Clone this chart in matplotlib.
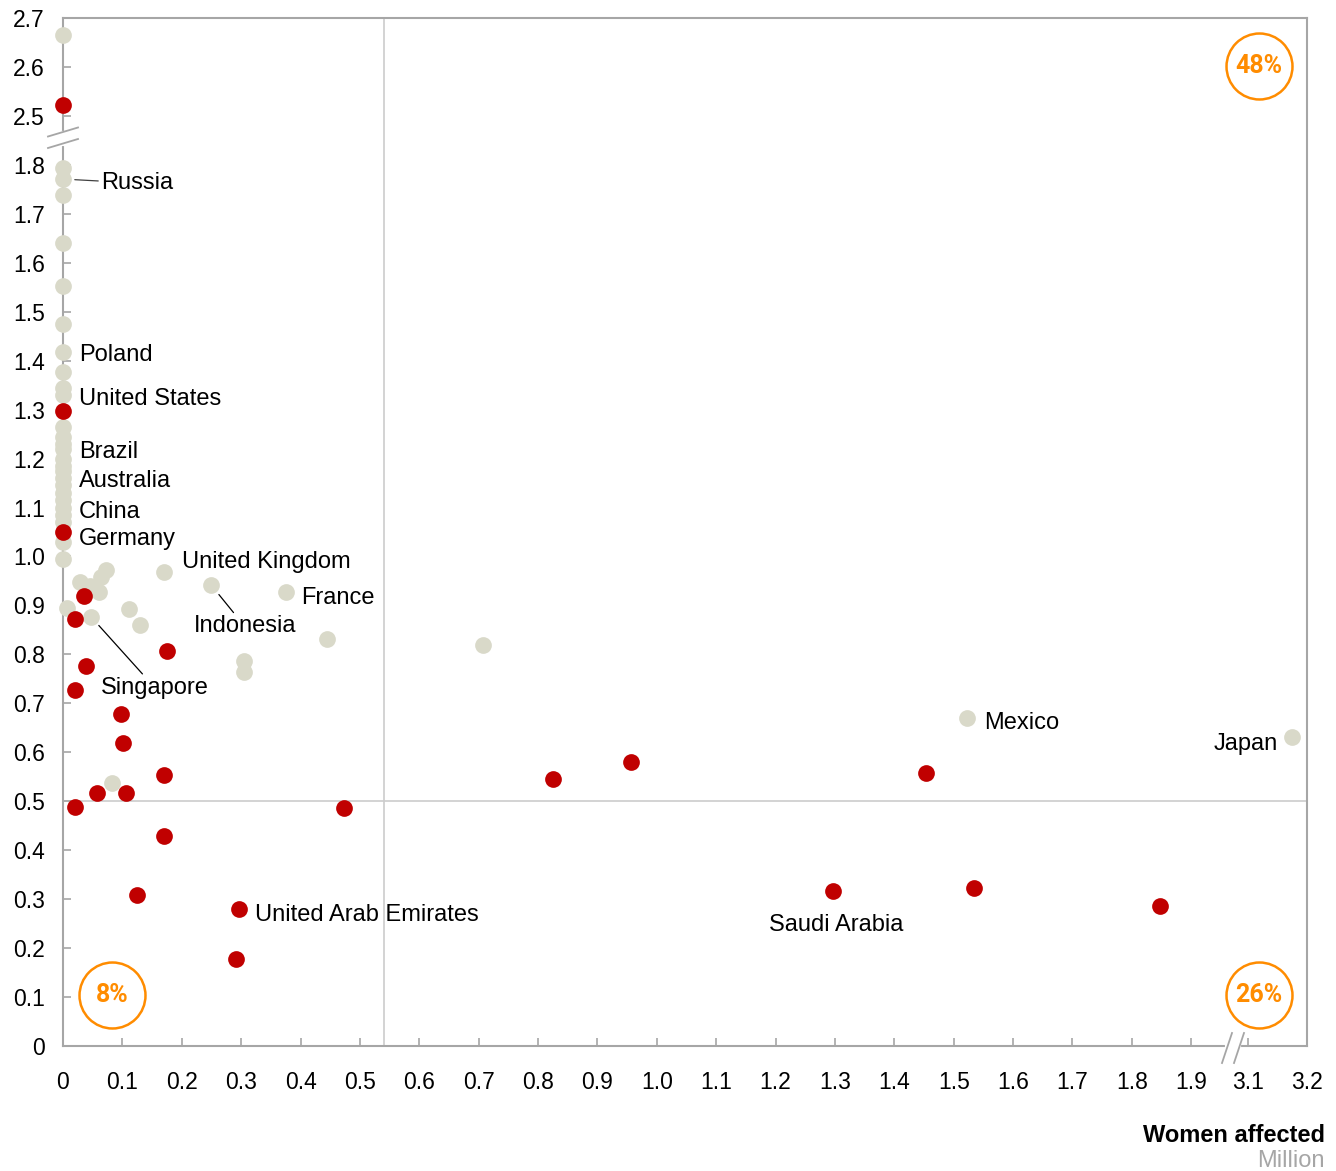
# Libraries importing
import numpy as np
import matplotlib
matplotlib.use('Agg')
import matplotlib.pyplot as plt
from matplotlib.transforms import ScaledTranslation

plt.rcParams['font.family'] = ['Liberation Sans', 'DejaVu Sans']

# countries that carry a label (x = women affected, million)
named_country = ['Russia', 'Poland', 'United States', 'Brazil', 'Australia', 'China',
                 'Germany', 'United Kingdom', 'Indonesia', 'France', 'Singapore',
                 'Mexico', 'Japan', 'United Arab Emirates', 'Saudi Arabia']
named_x = [0, 0, 0, 0, 0, 0, 0, 0.170, 0.250, 0.375, 0.047, 1.523, 3.174, 0.296, 1.297]
named_y = [1.771, 1.417, 1.345, 1.22, 1.16, 1.10, 1.049, 0.969, 0.941, 0.928, 0.877,
           0.671, 0.632, 0.280, 0.317]
named_red = [False, False, False, False, False, False, True, False, False, False, False,
             False, False, True, True]

# unlabelled countries
grey_x = [0, 0, 0, 0, 0, 0, 0, 0, 0, 0, 0, 0, 0, 0, 0, 0, 0, 0, 0, 0, 0,
          0.029, 0.045, 0.061, 0.064, 0.072, 0.006, 0.111, 0.129, 0.444, 0.304, 0.304,
          0.082, 0.708]
grey_y = [2.665, 1.793, 1.738, 1.640, 1.552, 1.474, 1.376, 1.33, 1.265, 1.245, 1.20,
          1.185, 1.145, 1.13, 1.115, 1.085, 1.07, 1.03, 0.994, 1.23, 1.175,
          0.947, 0.939, 0.927, 0.959, 0.973, 0.895, 0.892, 0.861, 0.832, 0.787, 0.763,
          0.538, 0.820]
red_x = [0, 0, 0.035, 0.020, 0.175, 0.039, 0.020, 0.098, 0.101, 0.170, 0.057, 0.106,
         0.020, 0.474, 0.170, 0.124, 0.292, 0.825, 0.956, 1.454, 1.534, 1.847]
red_y = [2.522, 1.297, 0.920, 0.873, 0.806, 0.777, 0.728, 0.679, 0.618, 0.554, 0.517,
         0.517, 0.489, 0.487, 0.429, 0.309, 0.178, 0.546, 0.581, 0.558, 0.323, 0.286]

# quadrant shares
quadrant_share = ['48%', '8%', '26%']

# axis ticks (both axes are broken)
x_ticks = [0, 0.1, 0.2, 0.3, 0.4, 0.5, 0.6, 0.7, 0.8, 0.9, 1.0, 1.1, 1.2, 1.3, 1.4,
           1.5, 1.6, 1.7, 1.8, 1.9, 3.1, 3.2]
y_ticks = [0, 0.1, 0.2, 0.3, 0.4, 0.5, 0.6, 0.7, 0.8, 0.9, 1.0, 1.1, 1.2, 1.3, 1.4,
           1.5, 1.6, 1.7, 1.8, 2.5, 2.6, 2.7]

# thresholds for the quadrant lines
x_threshold = 0.54
y_threshold = 0.5

RED = '#c00000'
GREY = '#d9d9c9'
ORANGE = '#ff8c00'
AXIS = '#a6a6a6'


# piecewise scales that squeeze the empty gaps
def fwd_x(x):
    x = np.asarray(x, float)
    return np.where(x <= 1.9, x, np.where(x >= 3.1, x - 1.105, 1.9 + (x - 1.9) * 0.095 / 1.2))


def inv_x(t):
    t = np.asarray(t, float)
    return np.where(t <= 1.9, t, np.where(t >= 1.995, t + 1.105, 1.9 + (t - 1.9) * 1.2 / 0.095))


def fwd_y(y):
    y = np.asarray(y, float)
    return np.where(y <= 1.8, y, np.where(y >= 2.5, y - 0.6, 1.8 + (y - 1.8) * 0.1 / 0.7))


def inv_y(t):
    t = np.asarray(t, float)
    return np.where(t <= 1.8, t, np.where(t >= 1.9, t + 0.6, 1.8 + (t - 1.8) * 0.7 / 0.1))


fig = plt.figure(figsize=(13.36, 11.71), dpi=100)
ax = fig.add_axes([63 / 1336, 1 - 1046 / 1171, 1244 / 1336, 1028 / 1171])
ax.set_xscale('function', functions=(fwd_x, inv_x))
ax.set_yscale('function', functions=(fwd_y, inv_y))
ax.set_xlim(0, 3.2)
ax.set_ylim(0, 2.7)

# quadrant lines
ax.axvline(x_threshold, color='#cccccc', lw=1.2, zorder=0)
ax.axhline(y_threshold, color='#cccccc', lw=1.2, zorder=0)

# points: grey first, red on top
named_x = np.array(named_x)
named_y = np.array(named_y)
named_red = np.array(named_red)
ax.scatter(grey_x + list(named_x[~named_red]), grey_y + list(named_y[~named_red]),
           s=145, color=GREY, linewidths=0, zorder=3, clip_on=False)
ax.scatter(red_x + list(named_x[named_red]), red_y + list(named_y[named_red]),
           s=145, color=RED, linewidths=0, zorder=4, clip_on=False)

# label offsets in pixels from the point, alignment and leader line
label_dx = [38, 16, 16, 16, 16, 16, 16, 18, -18, 15, 10, 17, -14, 16, 3]
label_dy = [-4, -3, -11, -3, -3, -4, -7, 10, -41, -6, -71, -5, -7, -6, -34]
label_ha = ['left'] * 12 + ['right', 'left', 'center']
leader = ['Russia', 'Indonesia', 'Singapore']

for name, x, y, dx, dy, ha in zip(named_country, named_x, named_y, label_dx, label_dy, label_ha):
    props = None
    if name in leader:
        props = dict(arrowstyle='-', color='#404040' if name == 'Russia' else 'black',
                     lw=0.9, shrinkA=0, shrinkB=8.5)
    ax.annotate(name, (x, y), xytext=(dx * 0.72, dy * 0.72), textcoords='offset points',
                ha=ha, va='center', fontsize=17, arrowprops=props, zorder=5)

# orange quadrant circles
for share, (cx, cy) in zip(quadrant_share, [(0.9614, 0.9533), (0.0394, 0.0496), (0.9614, 0.0496)]):
    ax.plot(cx, cy, marker='o', ms=47.5, mfc='white', mec=ORANGE, mew=1.8,
            transform=ax.transAxes, zorder=6)
    ax.text(cx, cy, share, transform=ax.transAxes, ha='center', va='center',
            fontsize=18, fontweight='bold', color=ORANGE, family='Roboto', zorder=7)

# axes styling
for side in ax.spines.values():
    side.set_color(AXIS)
    side.set_linewidth(1.5)
fmt = lambda v: '0' if v == 0 else f'{v:.1f}'
ax.set_xticks(x_ticks)
ax.set_xticklabels([fmt(v) for v in x_ticks])
ax.set_yticks(y_ticks)
ax.set_yticklabels([fmt(v) for v in y_ticks])
ax.minorticks_off()
ax.tick_params(direction='in', length=6, width=1.2, color=AXIS, labelsize=16.5, pad=13)
ax.tick_params(axis='x', pad=18)


# break marks on the axes (offsets in pixels around an axes-fraction anchor)
def axis_break(xa, ya, slashes, gap):
    tr = fig.dpi_scale_trans + ScaledTranslation(xa, ya, ax.transAxes)
    ax.plot([gap[0][0] / 100, gap[1][0] / 100], [gap[0][1] / 100, gap[1][1] / 100],
            color='white', lw=3, transform=tr, clip_on=False, zorder=8)
    for (x0, y0), (x1, y1) in slashes:
        ax.plot([x0 / 100, x1 / 100], [y0 / 100, y1 / 100], color=AXIS, lw=1.3,
                transform=tr, clip_on=False, zorder=9)


axis_break(0, (1046 - 138) / 1028,
           [((-15, -10), (15, -1)), ((-15, 1.5), (15, 10.5))], ((0, -5.5), (0, 5.5)))
axis_break((1233 - 63) / 1244, 0,
           [((-11, -17), (-1, 13)), ((1, -17), (11, 13))], ((-6, 0), (6, 0)))

# axis title
fig.text(1325 / 1336, 1 - 1136 / 1171, 'Women affected', ha='right', va='center',
         fontsize=17, fontweight='bold')
fig.text(1325 / 1336, 1 - 1161 / 1171, 'Million', ha='right', va='center',
         fontsize=17, color='#a6a6a6')

fig.savefig('out.png', dpi=100)
